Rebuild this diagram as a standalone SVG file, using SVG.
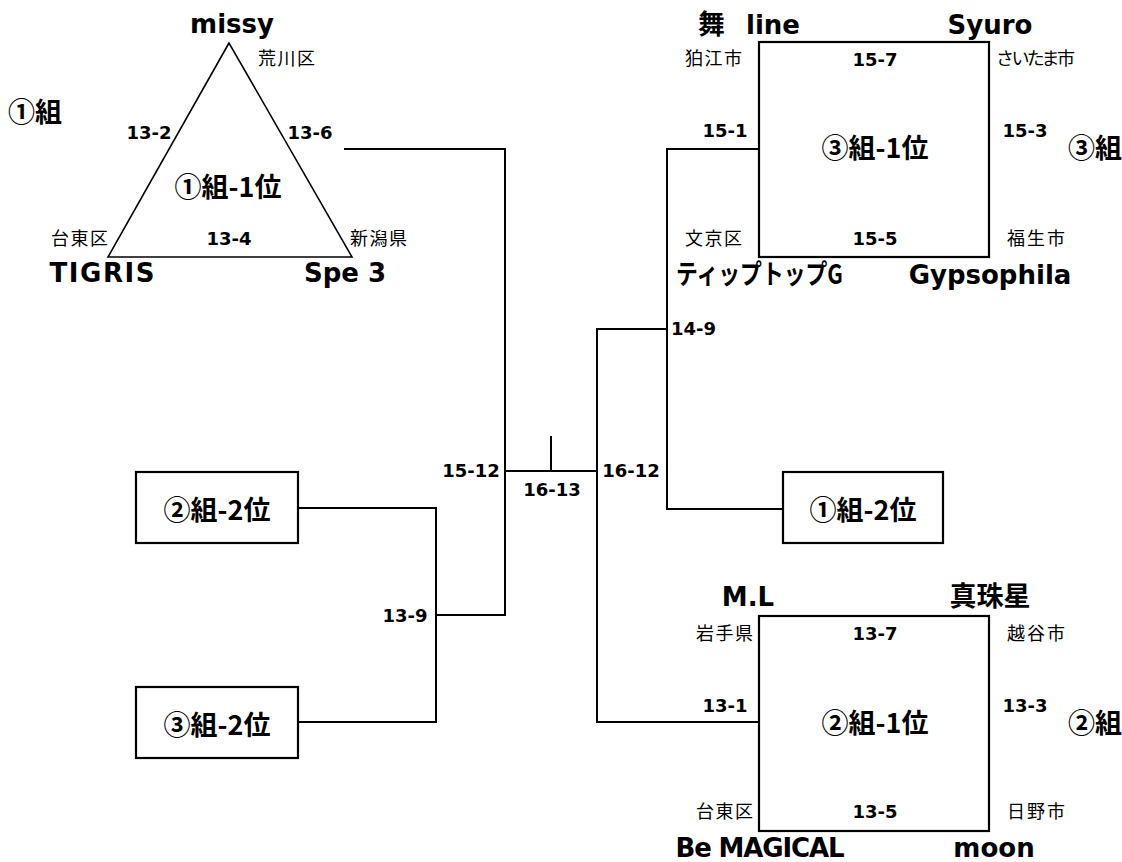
<svg xmlns="http://www.w3.org/2000/svg" width="1122" height="862" viewBox="0 0 1122 862">
<style>
text{fill:#000;}
.t{font-family:"DejaVu Sans","Noto Sans CJK JP",sans-serif;font-weight:bold;font-size:26px;}
.tj{font-family:"Noto Sans CJK JP",sans-serif;font-weight:bold;font-size:27px;}
.s{font-family:"DejaVu Sans","Noto Sans CJK JP",sans-serif;font-weight:bold;font-size:18px;}
.c{font-family:"Noto Sans CJK JP",sans-serif;font-weight:normal;font-size:18px;}
.g{font-family:"Noto Sans CJK JP",sans-serif;font-weight:bold;font-size:27px;}
.m{text-anchor:middle;}
.box{fill:#fff;stroke:#000;stroke-width:2.2;}
.ln{fill:none;stroke:#000;stroke-width:2;}
</style>
<rect width="1122" height="862" fill="#fff"/>
<g id="connectors">
<polyline class="ln" points="344,149 505,149 505,615 436,615"/>
<polyline class="ln" points="298,508 436,508 436,722 298,722"/>
<line class="ln" x1="505" y1="471" x2="597" y2="471"/>
<line class="ln" x1="551" y1="436" x2="551" y2="471"/>
<polyline class="ln" points="759,722 597,722 597,329 667,329"/>
<polyline class="ln" points="759,149 667,149 667,509 783,509"/>
</g>
<g id="group1">
<polygon points="229,43 108,257 352,257" fill="#fff" stroke="#000" stroke-width="1.6"/>
<text class="t m" x="232" y="33">missy</text>
<text class="c" x="258" y="65" textLength="57">荒川区</text>
<text class="g" x="8" y="122">①組</text>
<text class="s m" x="149" y="139">13-2</text>
<text class="s m" x="310" y="139">13-6</text>
<text class="g m" x="228" y="197">①組-1位</text>
<text class="c" x="51" y="245" textLength="57">台東区</text>
<text class="s m" x="229" y="245">13-4</text>
<text class="c" x="350" y="245" textLength="57">新潟県</text>
<text class="t m" x="102" y="282" textLength="105">TIGRIS</text>
<text class="t m" x="345" y="282">Spe 3</text>
</g>
<g id="group3">
<rect class="box" x="759" y="42" width="230" height="215"/>
<text class="tj" x="698" y="34">舞</text>
<text class="t" x="746" y="34">line</text>
<text class="t m" x="990" y="34">Syuro</text>
<text class="c" x="685" y="65" textLength="57">狛江市</text>
<text class="s m" x="875" y="66">15-7</text>
<text class="c" x="996" y="65" textLength="79">さいたま市</text>
<text class="s m" x="725" y="137">15-1</text>
<text class="s m" x="1025" y="137">15-3</text>
<text class="g m" x="875" y="158">③組-1位</text>
<text class="g" x="1068" y="158">③組</text>
<text class="c" x="685" y="245" textLength="57">文京区</text>
<text class="s m" x="875" y="245">15-5</text>
<text class="c" x="1007" y="245" textLength="58">福生市</text>
<text class="tj" x="676" y="284" textLength="167" lengthAdjust="spacingAndGlyphs">ティップトップG</text>
<text class="t m" x="990" y="284">Gypsophila</text>
</g>
<g id="group2">
<rect class="box" x="759" y="616" width="230" height="215"/>
<text class="t m" x="748" y="606">M.L</text>
<text class="tj m" x="990" y="606">真珠星</text>
<text class="c" x="696" y="640" textLength="57">岩手県</text>
<text class="s m" x="875" y="640">13-7</text>
<text class="c" x="1007" y="640" textLength="58">越谷市</text>
<text class="s m" x="725" y="712">13-1</text>
<text class="s m" x="1025" y="712">13-3</text>
<text class="g m" x="875" y="733">②組-1位</text>
<text class="g" x="1068" y="733">②組</text>
<text class="c" x="696" y="818" textLength="57">台東区</text>
<text class="s m" x="875" y="818">13-5</text>
<text class="c" x="1007" y="818" textLength="58">日野市</text>
<text class="t m" x="760" y="857" textLength="169">Be MAGICAL</text>
<text class="t m" x="994" y="857">moon</text>
</g>
<g id="g2-2">
<rect class="box" x="136" y="472" width="162" height="71"/>
<text class="g m" x="217" y="520">②組-2位</text>
</g>
<g id="g3-2">
<rect class="box" x="136" y="687" width="162" height="71"/>
<text class="g m" x="217" y="735">③組-2位</text>
</g>
<g id="g1-2">
<rect class="box" x="783" y="472" width="160" height="71"/>
<text class="g m" x="863" y="520">①組-2位</text>
</g>
<g id="scores">
<text class="s" x="671" y="335">14-9</text>
<text class="s m" x="471" y="477">15-12</text>
<text class="s m" x="552" y="496">16-13</text>
<text class="s m" x="631" y="477">16-12</text>
<text class="s m" x="405" y="622">13-9</text>
</g>
</svg>
